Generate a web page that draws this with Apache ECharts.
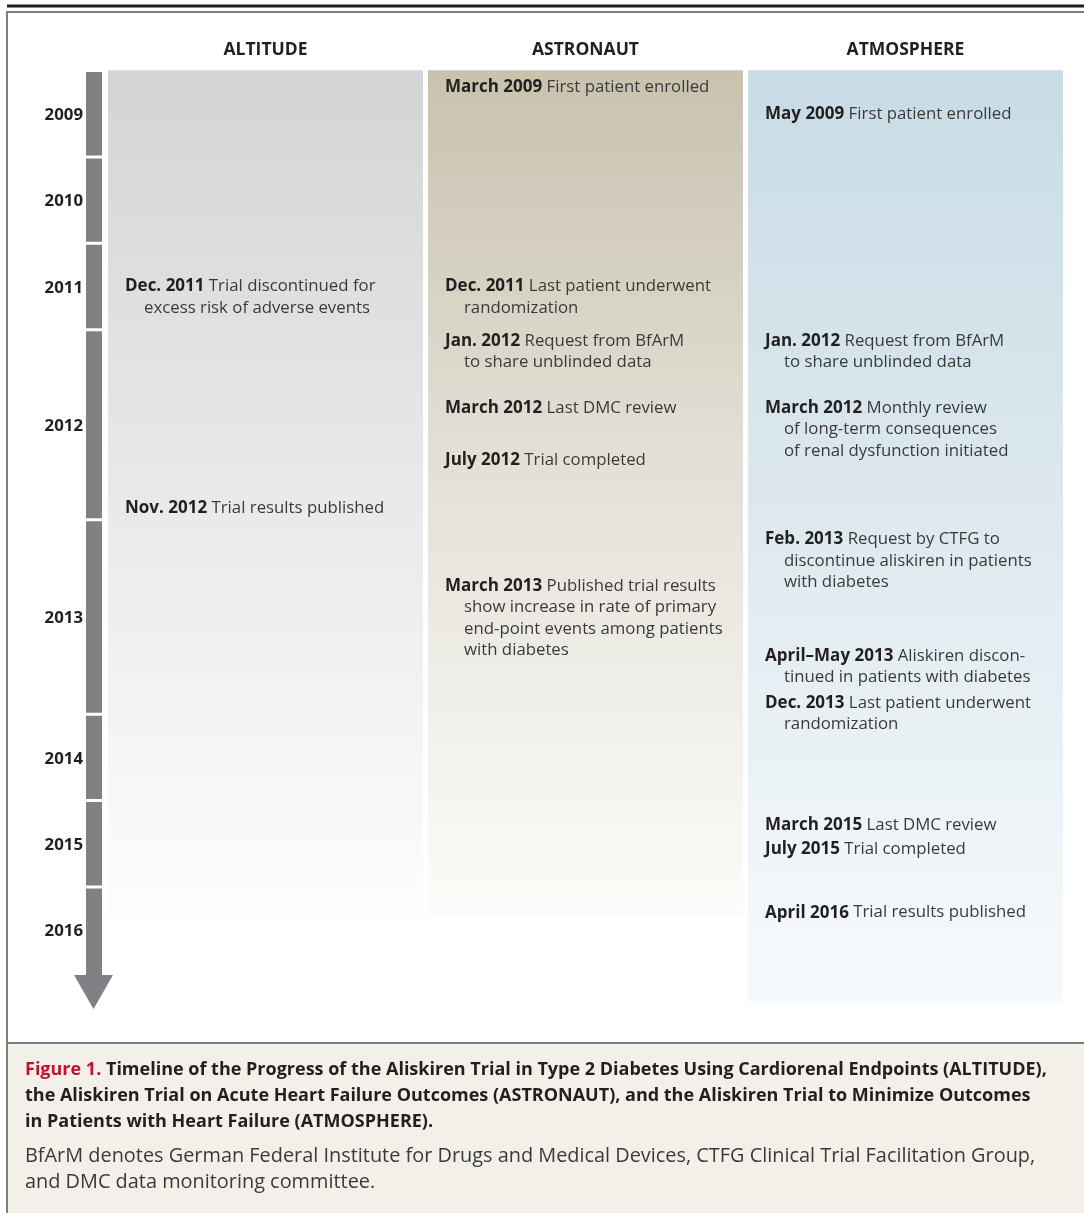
<!DOCTYPE html>
<html>
<head>
<meta charset="utf-8">
<script src="https://cdn.jsdelivr.net/npm/echarts@6/dist/echarts.min.js"></script>
<style>
  html, body { margin: 0; padding: 0; background: #fff; }
  #main { width: 1084px; height: 1213px; }
</style>
</head>
<body>
<div id="main"></div>
<script>
// trials (columns) and how far down each column's panel runs, in timeline units
var trials = ['ALTITUDE', 'ASTRONAUT', 'ATMOSPHERE'];
var trialEnd = [9.78, 9.78, 10.77];

// years on the arrow and how many units each one takes
var years = ['2009', '2010', '2011', '2012', '2013', '2014', '2015', '2016'];
var yearSpan = [1, 1, 1, 2.2, 2.25, 1, 1, 1];

// events: column, row (timeline units), date, description
var eventTrial = [0, 0, 1, 1, 1, 1, 1, 1, 2, 2, 2, 2, 2, 2, 2, 2, 2];
var eventRow = [2.48, 5.05, 0.17, 2.48, 3.11, 3.89, 4.49, 5.95, 0.49, 3.11, 3.89, 5.41, 6.76, 7.30, 8.72, 9.0, 9.73];
var eventDate = [
    'Dec. 2011', 'Nov. 2012',
    'March 2009', 'Dec. 2011', 'Jan. 2012', 'March 2012', 'July 2012', 'March 2013',
    'May 2009', 'Jan. 2012', 'March 2012', 'Feb. 2013', 'April\u2013May 2013', 'Dec. 2013',
    'March 2015', 'July 2015', 'April 2016'
];
var eventText = [
    'Trial discontinued for\nexcess risk of adverse events',
    'Trial results published',
    'First patient enrolled',
    'Last patient underwent\nrandomization',
    'Request from BfArM\nto share unblinded data',
    'Last DMC review',
    'Trial completed',
    'Published trial results\nshow increase in rate of primary\nend-point events among patients\nwith diabetes',
    'First patient enrolled',
    'Request from BfArM\nto share unblinded data',
    'Monthly review\nof long-term consequences\nof renal dysfunction initiated',
    'Request by CTFG to\ndiscontinue aliskiren in patients\nwith diabetes',
    'Aliskiren discon-\ntinued in patients with diabetes',
    'Last patient underwent\nrandomization',
    'Last DMC review',
    'Trial completed',
    'Trial results published'
];

var FONT = '"Open Sans", "Noto Sans", sans-serif';
var DARK = '#231f20';
var TEXT = '#3a3a3a';
var BAR = '#808184';
var LINE_H = 21.5;

// panel colours top -> bottom
var colColors = [
    ['#d3d4d6', '#e6e7e8', '#fdfdfd'],
    ['#c8c2ae', '#e2dfd5', '#fcfcfa'],
    ['#c8dce5', '#dce8ee', '#f7fafc']
];

var yearStart = [];
var acc = 0;
yearSpan.forEach(function (s) {
    yearStart.push(acc);
    acc += s;
});
var timelineEnd = acc;

var myChart = echarts.init(document.getElementById('main'), null, {renderer: 'canvas'});

var option = {
    animation: false,
    backgroundColor: '#fff',
    grid: {
        left: 108,
        width: 960,
        top: 63.4,
        height: 950.4
    },
    xAxis: {type: 'value', min: 0, max: 3, show: false},
    yAxis: {type: 'value', min: -0.1, max: 10.9, inverse: true, show: false},
    graphic: [
        {type: 'line', shape: {x1: 7, y1: 6, x2: 1084, y2: 6}, style: {stroke: DARK, lineWidth: 3}},
        {type: 'polyline', shape: {points: [[7, 1213], [7, 12], [1084, 12]]}, style: {stroke: '#7d7d7d', lineWidth: 2, fill: null}},
        {type: 'rect', shape: {x: 8, y: 1044, width: 1076, height: 169}, style: {fill: '#f3f0ea'}},
        {type: 'line', shape: {x1: 7, y1: 1043, x2: 1084, y2: 1043}, style: {stroke: '#7d7d7d', lineWidth: 2}},
        {
            type: 'text', left: 25, top: 1057,
            style: {
                text: '{r|Figure 1.} Timeline of the Progress of the Aliskiren Trial in Type 2 Diabetes Using Cardiorenal Endpoints (ALTITUDE),\n' +
                'the Aliskiren Trial on Acute Heart Failure Outcomes (ASTRONAUT), and the Aliskiren Trial to Minimize Outcomes\n' +
                'in Patients with Heart Failure (ATMOSPHERE).',
                font: 'bold 18px ' + FONT,
                fill: DARK,
                lineHeight: 26,
                rich: {
                    r: {fill: '#c8102e', font: 'bold 18px ' + FONT, lineHeight: 26}
                }
            }
        },
        {
            type: 'text', left: 25, top: 1143,
            style: {
                text: 'BfArM denotes German Federal Institute for Drugs and Medical Devices, CTFG Clinical Trial Facilitation Group,\n' +
                'and DMC data monitoring committee.',
                font: '19.9px ' + FONT,
                fill: TEXT,
                lineHeight: 26
            }
        }
    ],
    series: [
        {
            // shaded panel behind each trial, with its heading
            type: 'custom',
            clip: false,
            data: trials.map(function (t, i) { return [i, trialEnd[i]]; }),
            renderItem: function (params, api) {
                var i = api.value(0);
                var p0 = api.coord([i, -0.02]);
                var p1 = api.coord([i + 315 / 320, api.value(1)]);
                var c = colColors[i];
                var head = api.coord([i + 315 / 640, -0.25]);
                return {
                    type: 'group',
                    children: [
                        {
                            type: 'rect',
                            shape: {x: p0[0], y: p0[1], width: p1[0] - p0[0], height: p1[1] - p0[1]},
                            style: {
                                fill: new echarts.graphic.LinearGradient(0, 0, 0, 1, [
                                    {offset: 0, color: c[0]},
                                    {offset: 0.45, color: c[1]},
                                    {offset: 1, color: c[2]}
                                ])
                            }
                        },
                        {
                            type: 'text',
                            x: head[0], y: head[1],
                            style: {
                                text: trials[i],
                                font: 'bold 17.5px ' + FONT,
                                fill: DARK,
                                align: 'center',
                                verticalAlign: 'middle'
                            }
                        }
                    ]
                };
            }
        },
        {
            // year arrow on the left
            type: 'custom',
            clip: false,
            data: years.map(function (y, i) { return [yearStart[i], yearStart[i] + yearSpan[i]]; }),
            renderItem: function (params, api) {
                var i = params.dataIndex;
                var gx = params.coordSys.x;
                var top = api.coord([0, api.value(0)]);
                var bot = api.coord([0, api.value(1)]);
                var mid = (top[1] + bot[1]) / 2;
                var last = i === years.length - 1;
                var children = [
                    {
                        type: 'rect',
                        shape: {x: gx - 22, y: top[1], width: 16, height: bot[1] - top[1] - (last ? 0 : 3)},
                        style: {fill: BAR}
                    },
                    {
                        type: 'text',
                        x: gx - 25, y: mid,
                        style: {
                            text: years[i],
                            font: 'bold 16.8px ' + FONT,
                            fill: DARK,
                            align: 'right',
                            verticalAlign: 'middle'
                        }
                    }
                ];
                if (last) {
                    var tip = api.coord([0, timelineEnd + 0.395]);
                    children.push({
                        type: 'polygon',
                        shape: {points: [[gx - 34, bot[1]], [gx + 5, bot[1]], [gx - 14.5, tip[1]]]},
                        style: {fill: BAR}
                    });
                }
                return {type: 'group', children: children};
            }
        },
        {
            // event notes
            type: 'custom',
            clip: false,
            data: eventRow.map(function (r, i) { return [eventTrial[i], r]; }),
            renderItem: function (params, api) {
                var i = params.dataIndex;
                var p = api.coord([api.value(0), api.value(1)]);
                var lines = eventText[i].split('\n');
                var txt = '{b|' + eventDate[i] + '} ' + lines[0];
                for (var k = 1; k < lines.length; k++) {
                    txt += '\n{i|' + lines[k] + '}';
                }
                return {
                    type: 'text',
                    x: p[0] + 17,
                    y: p[1] - LINE_H / 2,
                    style: {
                        text: txt,
                        font: '16.8px ' + FONT,
                        fill: TEXT,
                        verticalAlign: 'top',
                        align: 'left',
                        lineHeight: LINE_H,
                        rich: {
                            b: {font: 'bold 17px ' + FONT, fill: DARK, lineHeight: LINE_H},
                            i: {font: '16.8px ' + FONT, fill: TEXT, lineHeight: LINE_H, padding: [0, 0, 0, 19]}
                        }
                    }
                };
            }
        }
    ]
};

myChart.setOption(option);
</script>
</body>
</html>
